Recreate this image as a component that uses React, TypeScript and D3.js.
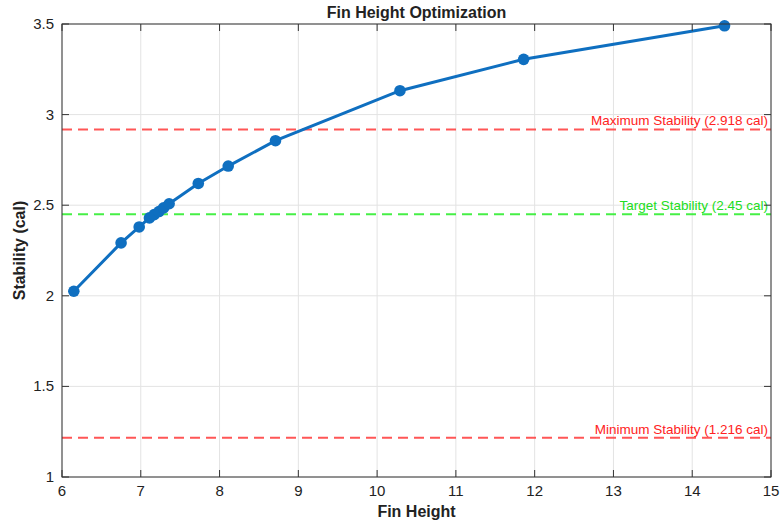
import React from "react";
import * as d3 from "d3";

const finHeight = [6.15, 6.75, 6.98, 7.11, 7.17, 7.23, 7.29, 7.36, 7.73, 8.11, 8.71, 10.29, 11.86, 14.41];
const stability = [2.025, 2.292, 2.38, 2.43, 2.448, 2.465, 2.485, 2.508, 2.62, 2.716, 2.856, 3.132, 3.305, 3.49];
const refLines = [
  { value: 2.918, label: "Maximum Stability (2.918 cal)", color: "#FF4444" },
  { value: 2.45, label: "Target Stability (2.45 cal)", color: "#33EE33" },
  { value: 1.216, label: "Minimum Stability (1.216 cal)", color: "#FF4444" },
];
const xTicks = [6, 7, 8, 9, 10, 11, 12, 13, 14, 15];
const yTicks = [1, 1.5, 2, 2.5, 3, 3.5];

const W = 781, H = 522;
const L = 62, R = 771, T = 24, B = 477;

export default function App() {
  const x = d3.scaleLinear().domain([6, 15]).range([L, R]);
  const y = d3.scaleLinear().domain([1, 3.5]).range([B, T]);
  const pts = finHeight.map((f, i) => [f, stability[i]] as [number, number]);
  const line = d3.line<[number, number]>().x(d => x(d[0])).y(d => y(d[1]));
  const font = "'Liberation Sans', Arial, Helvetica, sans-serif";
  return (
    <svg width={W} height={H} style={{ position: "absolute", left: 0, top: 0, background: "#fff" }} fontFamily={font}>
      <rect x={0} y={0} width={W} height={H} fill="#fff" />
      {xTicks.map(t => (
        <line key={"gx" + t} x1={x(t)} x2={x(t)} y1={T} y2={B} stroke="#e3e3e3" strokeWidth={1} />
      ))}
      {yTicks.map(t => (
        <line key={"gy" + t} x1={L} x2={R} y1={y(t)} y2={y(t)} stroke="#e3e3e3" strokeWidth={1} />
      ))}
      {refLines.map(r => (
        <g key={r.label}>
          <line x1={L} x2={R} y1={y(r.value)} y2={y(r.value)} stroke={r.color} strokeWidth={2} strokeDasharray="10,6" opacity={0.9} />
          <text x={R - 3} y={y(r.value) - 4} textAnchor="end" fontSize={13.5} fill={r.color === "#33EE33" ? "#22DD22" : "#FF2222"}>{r.label}</text>
        </g>
      ))}
      <path d={line(pts) || ""} fill="none" stroke="#0F6FC0" strokeWidth={3} />
      {pts.map((p, i) => (
        <circle key={i} cx={x(p[0])} cy={y(p[1])} r={5.8} fill="#0F6FC0" />
      ))}
      <rect x={L} y={T} width={R - L} height={B - T} fill="none" stroke="#333" strokeWidth={1} />
      {xTicks.map(t => (
        <g key={"tx" + t}>
          <line x1={x(t)} x2={x(t)} y1={B} y2={B - 7} stroke="#333" />
          <line x1={x(t)} x2={x(t)} y1={T} y2={T + 7} stroke="#333" />
          <text x={x(t)} y={B + 19} textAnchor="middle" fontSize={15} fill="#222">{t}</text>
        </g>
      ))}
      {yTicks.map(t => (
        <g key={"ty" + t}>
          <line x1={L} x2={L + 7} y1={y(t)} y2={y(t)} stroke="#333" />
          <line x1={R} x2={R - 7} y1={y(t)} y2={y(t)} stroke="#333" />
          <text x={L - 8} y={y(t) + 5} textAnchor="end" fontSize={15} fill="#222">{t}</text>
        </g>
      ))}
      <text x={(L + R) / 2} y={18} textAnchor="middle" fontSize={16} fontWeight="bold" fill="#222">Fin Height Optimization</text>
      <text x={(L + R) / 2} y={517} textAnchor="middle" fontSize={16} fontWeight="bold" fill="#222">Fin Height</text>
      <text transform={`translate(25,${(T + B) / 2}) rotate(-90)`} textAnchor="middle" fontSize={16} fontWeight="bold" fill="#222">Stability (cal)</text>
    </svg>
  );
}
